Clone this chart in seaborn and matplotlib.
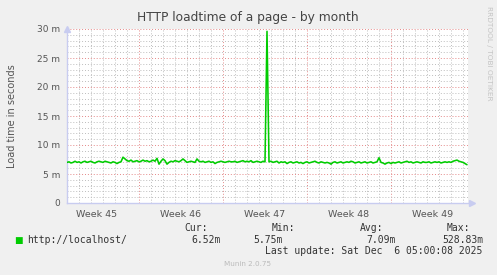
import matplotlib
matplotlib.use("Agg")
import matplotlib.pyplot as plt
import seaborn as sns
import numpy as np
import pandas as pd
from matplotlib.ticker import FixedLocator, MultipleLocator, NullFormatter

# ---------------- data ----------------
step_days = 1 / 6  # sample spacing in days
load_ms = [
    7.0, 7.1, 6.9, 7.0, 7.2, 7.0, 7.1, 6.9, 7.1, 7.2,
    7.0, 7.1, 7.2, 7.0, 6.9, 7.1, 7.2, 7.1, 7.0, 7.2,
    7.1, 7.0, 6.9, 7.1, 7.0, 6.8, 7.0, 7.1, 7.9, 7.6,
    7.3, 7.2, 7.4, 7.1, 7.2, 7.3, 7.1, 7.2, 7.4, 7.2,
    7.3, 7.1, 7.2, 7.4, 7.2, 7.7, 6.7, 7.2, 7.6, 7.3,
    6.7, 7.0, 7.2, 7.1, 7.3, 7.2, 7.1, 7.3, 7.6, 7.3,
    7.0, 7.1, 7.2, 7.1, 7.0, 7.6, 7.2, 7.1, 7.2, 7.0,
    7.1, 7.2, 7.0, 7.1, 6.8, 7.0, 7.1, 7.2, 7.1, 7.0,
    7.1, 7.2, 7.1, 7.1, 7.2, 7.0, 7.1, 7.2, 7.3, 7.1,
    7.2, 7.1, 7.3, 7.0, 7.1, 7.2, 7.1, 7.0, 7.2, 7.1,
    29.6, 7.1, 7.2, 7.0, 7.1, 7.2, 6.9, 7.1, 7.0, 7.1,
    6.8, 7.0, 7.1, 6.9, 7.0, 7.1, 6.9, 7.0, 6.8, 7.0,
    7.1, 6.9, 7.0, 7.1, 7.2, 7.0, 6.9, 7.1, 7.0, 6.9,
    7.0, 6.9, 6.7, 7.0, 7.1, 6.9, 7.0, 7.1, 6.9, 7.0,
    7.1, 7.0, 7.2, 7.1, 6.9, 7.0, 7.1, 6.9, 7.0, 7.1,
    6.9, 7.0, 7.1, 6.9, 7.0, 7.1, 7.8, 7.0, 6.9, 6.7,
    6.9, 7.0, 6.8, 7.0, 6.9, 7.0, 7.1, 6.9, 7.0, 7.1,
    7.2, 7.0, 7.1, 6.9, 7.0, 7.1, 7.0, 6.9, 7.1, 7.0,
    7.0, 7.1, 6.9, 7.0, 7.1, 7.0, 7.1, 6.9, 7.0, 7.1,
    7.0, 7.1, 7.0, 7.2, 7.3, 7.4, 7.2, 7.1, 7.0, 6.8,
    6.6,
]
week_labels = ["Week 45", "Week 46", "Week 47", "Week 48", "Week 49"]
week_label_days = [2.5, 9.5, 16.5, 23.5, 30.5]
week_start_days = [6, 13, 20, 27]
y_ticks = [0, 5, 10, 15, 20, 25, 30]
y_tick_labels = ["0", "5 m", "10 m", "15 m", "20 m", "25 m", "30 m"]
title = "HTTP loadtime of a page - by month"
y_label = "Load time in seconds"
series_name = "http://localhost/"
stat_names = ["Cur:", "Min:", "Avg:", "Max:"]
stat_values = ["6.52m", "5.75m", "7.09m", "528.83m"]
last_update = "Last update: Sat Dec  6 05:00:08 2025"
footer = "Munin 2.0.75"
side_text = "RRDTOOL / TOBI OETIKER"

df = pd.DataFrame({"day": np.arange(len(load_ms)) * step_days, "load": load_ms})

# ---------------- figure ----------------
sns.set_style("white")
plt.rcParams["font.family"] = ["DejaVu Sans"]
W, H = 497, 275
fig = plt.figure(figsize=(W / 100, H / 100), dpi=100, facecolor="#F0F0F0")
L, R, T, B = 67, 468, 29, 203
ax = fig.add_axes([L / W, 1 - B / H, (R - L) / W, (B - T) / H])
ax.set_facecolor("white")

sns.lineplot(data=df, x="day", y="load", ax=ax, color="#00CC00", linewidth=1.15,
             zorder=5)

ax.set_xlim(0, (R - L) / 12)
ax.set_ylim(0, 30)

# grids
ax.xaxis.set_major_locator(FixedLocator(week_start_days))
ax.xaxis.set_minor_locator(MultipleLocator(1))
ax.yaxis.set_major_locator(FixedLocator(y_ticks))
ax.yaxis.set_minor_locator(MultipleLocator(1))
ax.xaxis.set_major_formatter(NullFormatter())
ax.set_yticklabels(y_tick_labels)
ax.grid(which="minor", color="#BDBDBD", linestyle=(0, (1, 2)), linewidth=0.7)
ax.grid(which="major", color="#E48888", linestyle=(0, (1, 2)), linewidth=0.7)
ax.set_axisbelow(True)
ax.tick_params(which="both", length=0)
ax.tick_params(axis="y", labelsize=6.5, labelcolor="#555555", pad=5)
ax.set_xlabel("")
ax.set_ylabel("")

for s in ["top", "right"]:
    ax.spines[s].set_visible(False)
for s in ["left", "bottom"]:
    ax.spines[s].set_color("#C8CCF0")
    ax.spines[s].set_linewidth(1.0)

# axis arrows
ax.plot([0], [1.0], marker="^", color="#C8CCF0", markersize=4,
        transform=ax.transAxes, clip_on=False)
ax.plot([1.01], [0], marker=">", color="#C8CCF0", markersize=4,
        transform=ax.transAxes, clip_on=False)

for d, lab in zip(week_label_days, week_labels):
    ax.text(d, -0.04, lab, transform=ax.get_xaxis_transform(), ha="center", va="top",
            fontsize=6.8, color="#555555")

def px(x, y):
    return x / W, 1 - y / H

fig.text(*px(248, 18), title, ha="center", va="center", fontsize=8.8, color="#444444")
fig.text(*px(12, 116), y_label, ha="center", va="center", rotation=90,
         fontsize=7, color="#555555")
fig.text(*px(489, 53), side_text, ha="center", va="center", rotation=270,
         fontsize=5.3, color="#C4C4C4")

mono = "DejaVu Sans Mono"
fig.text(*px(14, 240), "\u25A0", ha="left", va="center", fontsize=6.5, color="#00CC00")
fig.text(*px(27, 240), series_name, ha="left", va="center", fontsize=7, family=mono,
         color="#333333")
stat_right = [208, 295, 383, 470]
val_right = [221, 283, 396, 483]
for xr, n in zip(stat_right, stat_names):
    fig.text(*px(xr, 228), n, ha="right", va="center", fontsize=7, family=mono,
             color="#333333")
for xr, v in zip(val_right, stat_values):
    fig.text(*px(xr, 240), v, ha="right", va="center", fontsize=7, family=mono,
             color="#333333")
fig.text(*px(482, 251), last_update, ha="right", va="center", fontsize=7, family=mono,
         color="#333333")
fig.text(*px(248, 264), footer, ha="center", va="center", fontsize=5.2, color="#BBBBBB")

fig.savefig("out.png", dpi=100, facecolor=fig.get_facecolor())
